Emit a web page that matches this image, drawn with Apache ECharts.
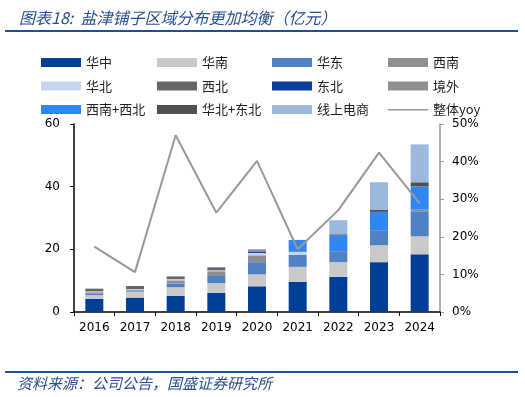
<!DOCTYPE html>
<html>
<head>
<meta charset="utf-8">
<script src="https://cdn.jsdelivr.net/npm/echarts@6/dist/echarts.min.js"></script>
<style>
  html, body { margin: 0; padding: 0; background: #fff; }
  #chart { width: 525px; height: 397px; }
</style>
</head>
<body>
<div id="chart"></div>
<script>
// 年份
const years = ['2016', '2017', '2018', '2019', '2020', '2021', '2022', '2023', '2024']

// 各区域营收（亿元）
const huazhong = [4.2, 4.6, 5.1, 6.1, 8.2, 9.6, 11.2, 15.9, 18.4]
const huanan = [1.2, 1.9, 2.8, 3.1, 3.8, 4.8, 4.7, 5.4, 5.75]
const huadong = [0.4, 0.4, 1.2, 2.3, 3.9, 3.8, 3.5, 4.8, 8.0]
const xinan = [0.5, 0.2, 1.0, 1.5, 2.2, null, null, null, null]
const huabei = [0.3, 0.2, 0.4, 0.3, 0.75, 1.0, null, null, null]
const xibei = [0.85, 1.0, 0.85, 0.95, null, null, null, null, null]
const dongbei = [null, null, null, null, 0.3, null, null, null, null]
const jingwai = [null, null, null, null, 0.85, null, null, null, 0.5]
const xinanXibei = [null, null, null, null, null, 3.8, 5.0, 5.85, 7.45]
const huabeiDongbei = [null, null, null, null, null, null, 0.4, 0.75, 1.3]
const online = [null, null, null, null, null, null, 4.5, 8.7, 12.1]

// 整体yoy（%）
const yoy = [17.4, 10.6, 47.0, 26.4, 40.2, 16.7, 27.1, 42.4, 28.9]

const chart = echarts.init(document.getElementById('chart'))

const font = 'DejaVu Sans, Noto Sans CJK SC, sans-serif'
const cjk = 'Noto Sans CJK SC, sans-serif'

const barSeries = [
  ['华中', huazhong, '#003f98'],
  ['华南', huanan, '#c9c9c9'],
  ['华东', huadong, '#4f81c4'],
  ['西南', xinan, '#8f8f8f'],
  ['华北', huabei, '#c5d5ec'],
  ['西北', xibei, '#666666'],
  ['东北', dongbei, '#0a3f9e'],
  ['境外', jingwai, '#8f8f8f'],
  ['西南+西北', xinanXibei, '#2f87f5'],
  ['华北+东北', huabeiDongbei, '#505050'],
  ['线上电商', online, '#9bb8de']
].map(([name, data, color]) => ({
  name,
  type: 'bar',
  stack: 'total',
  barWidth: 18,
  data,
  itemStyle: { color }
}))

// 图例按四列排布
const lineIcon = 'path://M0,0L0,0Z M0,4L40,4L40,5.6L0,5.6Z M0,9L0,9Z'
const legendCols = [
  ['华中', '华北', '西南+西北'],
  ['华南', '西北', '华北+东北'],
  ['华东', '东北', '线上电商'],
  ['西南', '境外', { name: '整体yoy', icon: lineIcon }]
]
const legendLeft = [36, 152, 267, 383]

const option = {
  animation: false,
  backgroundColor: '#fff',
  title: {
    text: '图表18:  盐津铺子区域分布更加均衡（亿元）',
    left: 14,
    top: 5,
    textStyle: {
      fontFamily: cjk,
      fontSize: 16,
      fontStyle: 'italic',
      fontWeight: 'normal',
      color: '#2a4f8e'
    }
  },
  graphic: [
    { type: 'rect', shape: { x: 5, y: 30, width: 513, height: 2 }, style: { fill: '#1f4e9a' } },
    { type: 'rect', shape: { x: 5, y: 371, width: 513, height: 2 }, style: { fill: '#1f4e9a' } },
    {
      type: 'text', left: 17, top: 376,
      style: {
        text: '资料来源：公司公告，国盛证券研究所',
        font: 'italic 15px Noto Sans CJK SC',
        fill: '#2a4f8e'
      }
    }
  ],
  legend: legendCols.map((col, i) => ({
    orient: 'vertical',
    left: legendLeft[i],
    top: 51,
    itemWidth: 40,
    itemHeight: 9,
    itemGap: 10.5,
    icon: 'rect',
    data: col,
    textStyle: { fontFamily: cjk, fontSize: 13, color: '#222' }
  })),
  grid: { left: 74, right: 85, top: 124, bottom: 85 },
  xAxis: {
    type: 'category',
    data: years,
    axisLine: { lineStyle: { color: '#000', width: 1.5 } },
    axisTick: { show: true, length: 4, lineStyle: { color: '#000' } },
    axisLabel: { color: '#000', fontFamily: font, fontSize: 12, margin: 10 }
  },
  yAxis: [
    {
      type: 'value',
      min: 0,
      max: 60,
      interval: 20,
      splitLine: { show: false },
      axisLine: { show: true, lineStyle: { color: '#000', width: 1.5 } },
      axisTick: { show: true, length: 4, lineStyle: { color: '#000' } },
      axisLabel: { color: '#000', fontFamily: font, fontSize: 12, margin: 14 }
    },
    {
      type: 'value',
      min: 0,
      max: 50,
      interval: 10,
      splitLine: { show: false },
      axisLine: { show: true, lineStyle: { color: '#999', width: 1.5 } },
      axisTick: { show: true, length: 4, lineStyle: { color: '#999' } },
      axisLabel: { color: '#000', fontFamily: font, fontSize: 12, margin: 12, formatter: '{value}%' }
    }
  ],
  series: [
    ...barSeries,
    {
      name: '整体yoy',
      type: 'line',
      yAxisIndex: 1,
      data: yoy,
      symbol: 'none',
      lineStyle: { color: '#999', width: 2 },
      itemStyle: { color: '#999' },
      z: 5
    }
  ]
}

chart.setOption(option)
</script>
</body>
</html>
